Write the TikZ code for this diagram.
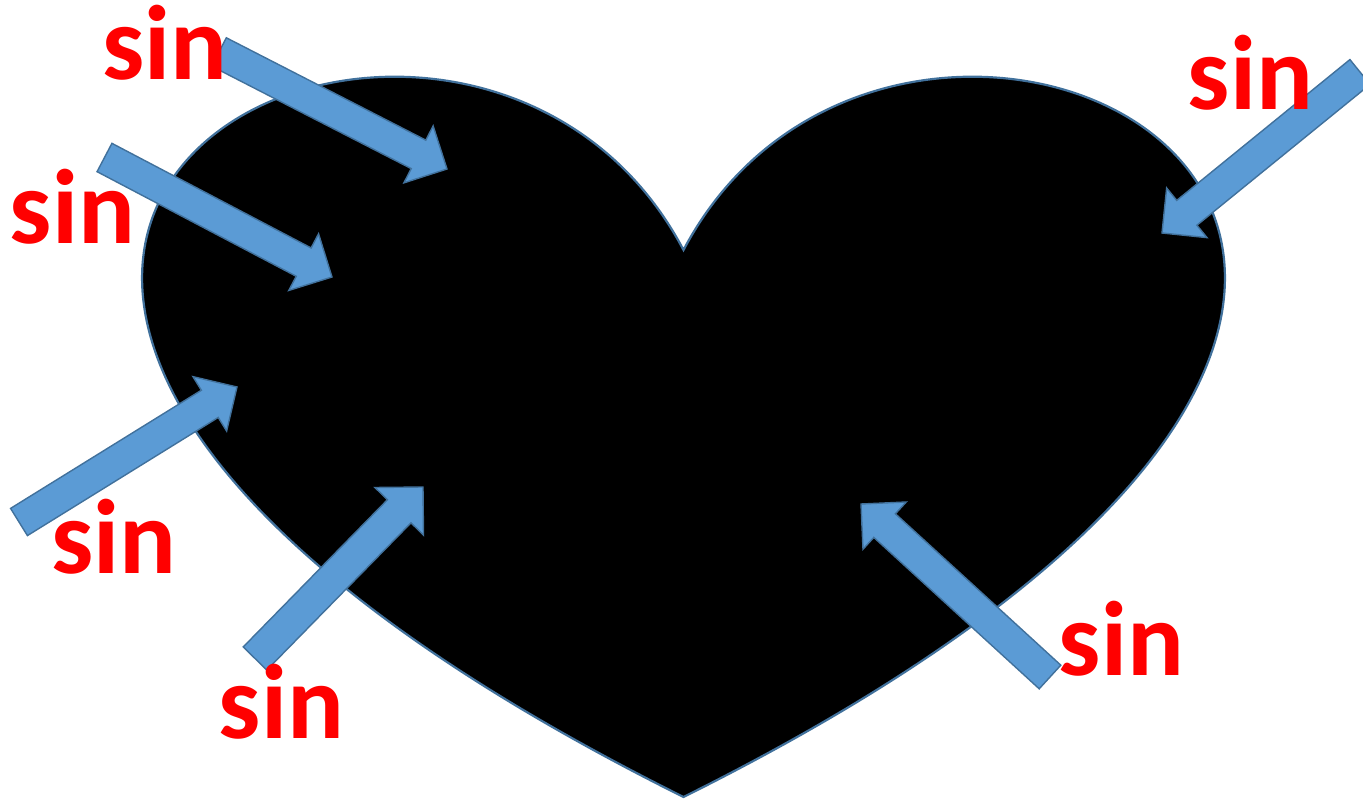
\documentclass[tikz,border=0pt]{standalone}
\usepackage{fontspec}
\setmainfont{Carlito}
\usetikzlibrary{calc}
\definecolor{arrowfill}{HTML}{5B9BD5}
\definecolor{arrowline}{HTML}{41719C}
\definecolor{sinred}{HTML}{FF0000}
\tikzset{
  heartshape/.style={fill=black, draw=arrowline, line width=2.2pt},
  blockarrowstyle/.style={fill=arrowfill, draw=arrowline, line width=1.4pt, line join=miter},
  sinlabel/.style={text=sinred, font=\fontsize{106}{106}\selectfont\bfseries, inner sep=0pt, anchor=base}
}
\newcommand\myblockarrow[6]{%
  \coordinate (#1-t) at #2;
  \coordinate (#1-p) at #3;
  \coordinate (#1-b) at ($(#1-p)!#6!(#1-t)$);
  \draw[blockarrowstyle] ($(#1-t)!#4!90:(#1-p)$) -- ($(#1-b)!#4!-90:(#1-t)$) -- ($(#1-b)!#5!-90:(#1-t)$) -- (#1-p) -- ($(#1-b)!#5!90:(#1-t)$) -- ($(#1-b)!#4!90:(#1-t)$) -- ($(#1-t)!#4!-90:(#1-p)$) -- cycle;
}
\begin{document}
\begin{tikzpicture}[x=1pt, y=-1pt]
  \useasboundingbox (0,0) rectangle (1363,799);
  \clip (0,0) rectangle (1363,799);
  % heart
  \path[heartshape] (683.5,250) .. controls (907.5,-175.4) and (1780.9,250) .. (683.5,797)
        .. controls (-413.9,250) and (459.5,-175.4) .. (683.5,250) -- cycle;
  % arrows
  \myblockarrow{a1}{(219,52)}{(447,169)}{16pt}{32pt}{32pt}
  \myblockarrow{a2}{(104.5,157.5)}{(332,277)}{16pt}{32pt}{32pt}
  \myblockarrow{a3}{(19,522)}{(237,387)}{16pt}{32pt}{32pt}
  \myblockarrow{a4}{(255,658.5)}{(423,487)}{16.5pt}{34pt}{34pt}
  \myblockarrow{a5}{(1050,677)}{(861,504)}{16pt}{32pt}{32pt}
  \myblockarrow{a6}{(1360,72)}{(1162,233)}{16pt}{32pt}{32pt}
  % labels
  \node[sinlabel] (t1) at (165,80) {sin};
  \node[sinlabel] (t2) at (72.5,244) {sin};
  \node[sinlabel] (t3) at (114,573) {sin};
  \node[sinlabel] (t4) at (281.5,738) {sin};
  \node[sinlabel] (t5) at (1121.5,675) {sin};
  \node[sinlabel] (t6) at (1250.5,110) {sin};
\end{tikzpicture}
\end{document}
